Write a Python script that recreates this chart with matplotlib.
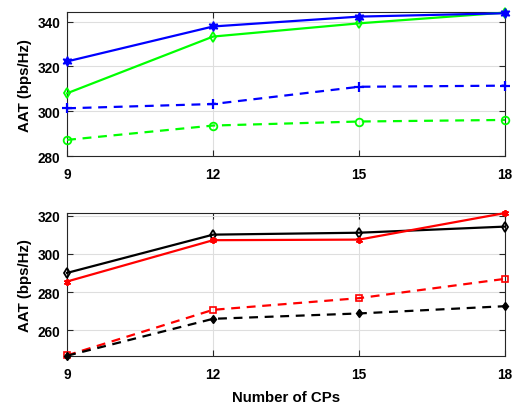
import matplotlib
matplotlib.use("Agg")
import matplotlib.pyplot as plt

plt.rcParams['font.family'] = ['Liberation Sans', 'DejaVu Sans']
plt.rcParams['font.weight'] = 'bold'

cps = [9, 12, 15, 18]
xticks = [9, 12, 15, 18]

# upper panel
blue_solid = [322.2, 337.8, 342.2, 343.7]
green_solid = [308.0, 333.3, 339.2, 344.0]
blue_dashed = [301.3, 303.2, 310.9, 311.4]
green_dashed = [287.2, 293.6, 295.4, 296.1]
top_ylim = [280, 344.2]
top_yticks = [280, 300, 320, 340]

# lower panel
black_solid = [290.1, 310.1, 311.1, 314.3]
red_solid = [285.6, 307.2, 307.5, 321.4]
red_dashed = [247.0, 270.8, 276.9, 287.0]
black_dashed = [246.8, 266.1, 268.9, 272.7]
bot_ylim = [246.6, 321.4]
bot_yticks = [260, 280, 300, 320]

fig = plt.figure(figsize=(5.24, 4.10), dpi=100)
ax1 = fig.add_axes([0.128, 0.617, 0.836, 0.351])
ax2 = fig.add_axes([0.128, 0.129, 0.836, 0.349])

lw = 1.6
ax1.plot(cps, blue_solid, '-', color='#0000ff', lw=lw, marker=(6, 1, 0), ms=7,
         mfc='#0000ff', mec='#0000ff', clip_on=False, zorder=5)
ax1.plot(cps, green_solid, '-', color='#00ff00', lw=lw, marker='d', ms=5,
         mfc='none', mec='#00ff00', mew=1.3, clip_on=False, zorder=4)
ax1.plot(cps, blue_dashed, '--', color='#0000ff', lw=lw, marker='+', ms=6.5,
         mew=1.6, clip_on=False, zorder=4, dashes=(4, 3))
ax1.plot(cps, green_dashed, '--', color='#00ff00', lw=lw, marker='o', ms=5.5,
         mfc='none', mec='#00ff00', mew=1.3, clip_on=False, zorder=4, dashes=(4, 3))

ax2.plot(cps, black_solid, '-', color='black', lw=lw, marker='d', ms=5,
         mfc='none', mec='black', mew=1.3, clip_on=False, zorder=4)
ax2.plot(cps, red_solid, '-', color='#ff0000', lw=lw, marker=(6, 2, 0), ms=5,
         mec='#ff0000', mew=1.3, clip_on=False, zorder=5)
ax2.plot(cps, red_dashed, '--', color='#ff0000', lw=lw, marker='s', ms=4.5,
         mfc='none', mec='#ff0000', mew=1.2, clip_on=False, zorder=4, dashes=(4, 3))
ax2.plot(cps, black_dashed, '--', color='black', lw=lw, marker='d', ms=4.5,
         mfc='black', mec='black', clip_on=False, zorder=4, dashes=(4, 3))

for ax, yl, yt in ((ax1, top_ylim, top_yticks), (ax2, bot_ylim, bot_yticks)):
    ax.set_xlim(cps[0], cps[-1])
    ax.set_ylim(*yl)
    ax.set_xticks(xticks)
    ax.set_yticks(yt)
    ax.grid(True, color='#dedede', lw=0.8)
    ax.set_axisbelow(True)
    ax.tick_params(direction='in', top=True, right=True, length=4,
                   labelsize=9.8, colors='#262626', labelcolor='black', width=0.8)
    ax.tick_params(axis='x', pad=8)
    ax.tick_params(axis='y', pad=5)
    for s in ax.spines.values():
        s.set_color('#262626')
        s.set_linewidth(0.8)
    for lab in ax.get_xticklabels() + ax.get_yticklabels():
        lab.set_fontweight('bold')
    ax.set_ylabel('AAT (bps/Hz)', fontsize=10.8, fontweight='bold', labelpad=4)

ax2.set_xlabel('Number of CPs', fontsize=10.8, fontweight='bold', labelpad=6)

fig.savefig('out.png', dpi=100)
